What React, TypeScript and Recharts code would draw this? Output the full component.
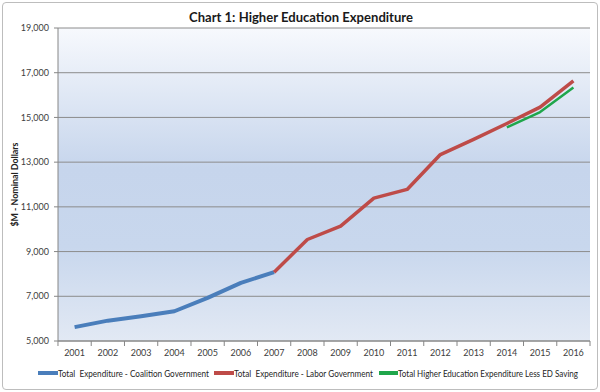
import React from 'react';
import {
  LineChart,
  Line,
  XAxis,
  YAxis,
  CartesianGrid,
  Legend,
} from 'recharts';

// values ($M, nominal)
const years = ['2001', '2002', '2003', '2004', '2005', '2006', '2007', '2008', '2009', '2010', '2011', '2012', '2013', '2014', '2015', '2016'];
const coalition = [5620, 5910, 6110, 6330, 6930, 7600, 8080, null, null, null, null, null, null, null, null, null];
const labor = [null, null, null, null, null, null, 8080, 9540, 10140, 11390, 11780, 13340, 14020, 14730, 15460, 16640];
const lessSaving = [null, null, null, null, null, null, null, null, null, null, null, null, null, 14560, 15240, 16340];
const yTicks = [5000, 7000, 9000, 11000, 13000, 15000, 17000, 19000];

const data = years.map((year, i) => ({
  year,
  coalition: coalition[i],
  labor: labor[i],
  lessSaving: lessSaving[i],
}));

const FONT = 'Lato, "Open Sans", sans-serif';
const axisColor = '#868686';

// Excel style: label in the middle of the category, tick mark on the category edges
const XTick = (props: any) => {
  const { x, y, payload, index, visibleTicksCount, width } = props;
  const half = width && visibleTicksCount ? width / visibleTicksCount / 2 : 16.6;
  const axisY = y - 8;
  return (
    <g>
      <line x1={x - half} y1={axisY} x2={x - half} y2={axisY + 5} stroke={axisColor} />
      {index === visibleTicksCount - 1 && (
        <line x1={x + half} y1={axisY} x2={x + half} y2={axisY + 5} stroke={axisColor} />
      )}
      <text x={x} y={y} dy="0.75em" textAnchor="middle" fontSize={9} fill="#404040" fontFamily={FONT}>
        {payload.value}
      </text>
    </g>
  );
};

const YTitle = (props: any) => {
  const { viewBox } = props;
  const cx = viewBox.x + 14;
  const cy = viewBox.y + viewBox.height / 2;
  return (
    <text
      x={cx}
      y={cy}
      transform={`rotate(-90, ${cx}, ${cy})`}
      textAnchor="middle"
      dominantBaseline="central"
      fontSize={9}
      fontWeight="bold"
      fill="#222"
      fontFamily={FONT}
      textLength={84}
      lengthAdjust="spacingAndGlyphs"
    >
      $M - Nominal Dollars
    </text>
  );
};

// legend drawn as a small svg so the text widths match the original
const legendLayout = [
  { lineX: 38, textX: 58, textLen: 151 },
  { lineX: 214, textX: 234, textLen: 139 },
  { lineX: 379, textX: 398, textLen: 180 },
];

const CustomLegend = (props: any) => {
  const { payload } = props;
  return (
    <svg width={600} height={20} style={{ display: 'block' }}>
      {payload.map((entry: any, i: number) => {
        const l = legendLayout[i];
        return (
          <g key={entry.value}>
            <line x1={l.lineX} y1={10} x2={l.textX} y2={10} stroke={entry.color} strokeWidth={4} />
            <text
              x={l.textX}
              y={10}
              dominantBaseline="central"
              fontSize={9}
              fill="#262626"
              fontFamily={FONT}
              textLength={l.textLen}
              lengthAdjust="spacingAndGlyphs"
              style={{ whiteSpace: 'pre' }}
            >
              {entry.value}
            </text>
          </g>
        );
      })}
    </svg>
  );
};

export default function App() {
  return (
    <div style={{ position: 'absolute', left: 0, top: 0, width: 600, height: 392, background: '#fff' }}>
      <div
        style={{
          position: 'absolute',
          left: 2,
          top: 2,
          width: 596,
          height: 388,
          boxSizing: 'border-box',
          border: '1px solid #bdbdbd',
          borderRadius: 4,
        }}
      />
      <svg width={600} height={30} style={{ position: 'absolute', left: 0, top: 0 }}>
        <text
          x={301}
          y={22}
          textAnchor="middle"
          fontSize={14}
          fontWeight="bold"
          fill="#1a1a1a"
          fontFamily={FONT}
          textLength={224}
          lengthAdjust="spacingAndGlyphs"
        >
          Chart 1: Higher Education Expenditure
        </text>
      </svg>
      <div style={{ position: 'absolute', left: 0, top: 0 }}>
        <LineChart width={600} height={392} data={data} margin={{ top: 28, right: 10, left: 0, bottom: 9 }}>
          <defs>
            <linearGradient id="plotBg" x1="0" y1="0" x2="0" y2="1">
              <stop offset="0%" stopColor="#f7f9fd" />
              <stop offset="45%" stopColor="#c6d5ec" />
              <stop offset="70%" stopColor="#c8d7ed" />
              <stop offset="100%" stopColor="#e2e9f4" />
            </linearGradient>
          </defs>
          <CartesianGrid vertical={false} stroke="#8c8c8c" fill="url(#plotBg)" fillOpacity={1} />
          <XAxis
            dataKey="year"
            height={22}
            padding={{ left: 16.6, right: 16.6 }}
            axisLine={{ stroke: axisColor }}
            tickLine={false}
            tickSize={5}
            tickMargin={3}
            interval={0}
            tick={<XTick />}
          />
          <YAxis
            width={58}
            domain={[5000, 19000]}
            ticks={yTicks}
            interval={0}
            axisLine={{ stroke: axisColor }}
            tickLine={{ stroke: axisColor }}
            tickSize={4}
            tickMargin={5}
            tick={{ fontSize: 9, fill: '#404040', fontFamily: FONT }}
            tickFormatter={(v: number) => v.toLocaleString('en-US')}
            label={<YTitle />}
          />
          <Legend verticalAlign="bottom" content={<CustomLegend />} wrapperStyle={{ left: 0, width: 600, height: 20, bottom: 9 }} />
          <Line
            dataKey="coalition"
            name="Total  Expenditure - Coalition Government"
            stroke="#4a7ebb"
            strokeWidth={4}
            strokeLinejoin="round"
            dot={false}
            activeDot={false}
            isAnimationActive={false}
          />
          <Line
            dataKey="labor"
            name="Total  Expenditure - Labor Government"
            stroke="#be4b48"
            strokeWidth={3.5}
            strokeLinejoin="round"
            dot={false}
            activeDot={false}
            isAnimationActive={false}
          />
          <Line
            dataKey="lessSaving"
            name="Total Higher Education Expenditure Less ED Saving"
            stroke="#1fa64b"
            strokeWidth={2.5}
            strokeLinejoin="round"
            dot={false}
            activeDot={false}
            isAnimationActive={false}
          />
        </LineChart>
      </div>
    </div>
  );
}
